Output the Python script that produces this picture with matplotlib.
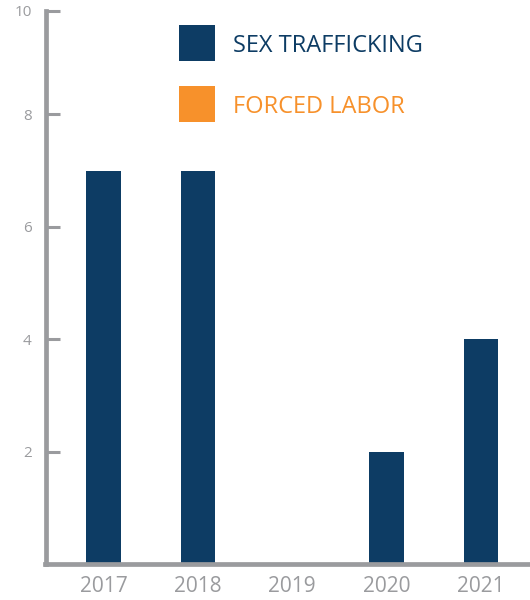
import matplotlib
matplotlib.use("Agg")
import matplotlib.pyplot as plt
from matplotlib.patches import Rectangle

# Data
years = ["2017", "2018", "2019", "2020", "2021"]
sex_trafficking = [7, 7, 0, 2, 4]
forced_labor = [0, 0, 0, 0, 0]
y_ticks = [2, 4, 6, 8, 10]
y_max = 9.84  # the axis stops a little short of 10, top tick sits at its end
series_names = ["SEX TRAFFICKING", "FORCED LABOR"]

NAVY = "#0d3c64"
ORANGE = "#f7912b"
GREY = "#9a9b9e"

plt.rcParams["font.family"] = ["Open Sans", "DejaVu Sans"]

W, H = 530, 600
fig = plt.figure(figsize=(W / 100, H / 100), dpi=100)
ax = fig.add_axes([45.5 / W, 36 / H, (528 - 45.5) / W, (564 - 11) / H])

x = list(range(len(years)))
ax.bar(x, sex_trafficking, width=0.365, color=NAVY, zorder=2)
ax.bar(x, forced_labor, width=0.365, color=ORANGE, zorder=2)

ax.set_xlim(-0.615, 4.5)
ax.set_ylim(0, y_max)

for side in ["top", "right"]:
    ax.spines[side].set_visible(False)
for side in ["left", "bottom"]:
    ax.spines[side].set_color(GREY)
    ax.spines[side].set_linewidth(3.4)
    ax.spines[side].set_capstyle("projecting")

ax.set_xticks(x)
ax.set_xticklabels(years, fontsize=15, color=GREY)
ax.tick_params(axis="x", length=0, pad=9)

ax.set_yticks([min(t, y_max) for t in y_ticks])
ax.set_yticklabels([str(t) for t in y_ticks], fontsize=11, color=GREY)
ax.tick_params(axis="y", direction="in", length=10, width=2.2, color=GREY, pad=10)

# Legend drawn by hand: square swatch + coloured label per series
for i, (name, col) in enumerate(zip(series_names, [NAVY, ORANGE])):
    top = 25 + i * 61
    fig.patches.append(Rectangle((179 / W, 1 - (top + 36) / H), 36 / W, 36 / H,
                                 transform=fig.transFigure, facecolor=col,
                                 edgecolor="none"))
    fig.text(233 / W, 1 - (top + 27) / H, name, fontsize=17, color=col,
             ha="left", va="baseline")

fig.savefig("out.png", dpi=100)
